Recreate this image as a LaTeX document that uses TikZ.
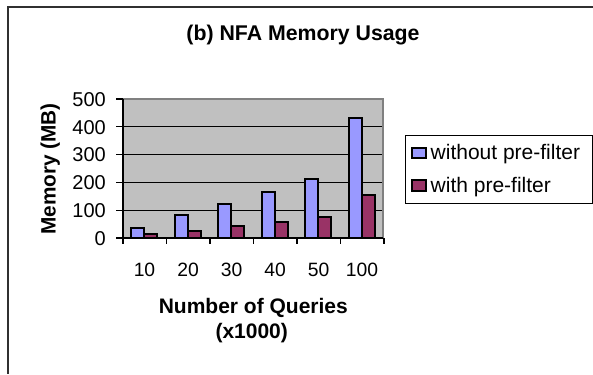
\documentclass[tikz,border=0pt]{standalone}
\usepackage{fontspec}
\setmainfont{Liberation Sans}
\definecolor{plotgray}{HTML}{C0C0C0}
\definecolor{borderg}{HTML}{808080}
\definecolor{barblue}{HTML}{9999FF}
\definecolor{barred}{HTML}{993366}
\definecolor{framec}{HTML}{303030}
\begin{document}
\begin{tikzpicture}[x=1pt,y=-1pt,
  bar/.style={draw=black,line width=2pt},
  ticklab/.style={inner sep=0pt,font=\fontsize{20}{24}\selectfont},
  xlab/.style={inner sep=0pt,font=\fontsize{19.3}{23}\selectfont},
  axtitle/.style={inner sep=0pt,font=\fontsize{21}{24}\selectfont\bfseries},
  legtext/.style={inner sep=0pt,anchor=base west,font=\fontsize{21}{24}\selectfont}]
\useasboundingbox (0,0) rectangle (593,374);
% outer frame
\draw[framec,line width=2pt] (593,7) -- (7.5,7) -- (7.5,374);
% title
\node[inner sep=0pt,anchor=base,font=\fontsize{21.3}{24}\selectfont\bfseries] (title) at (303,41) {(b) NFA Memory Usage};
% plot area
\fill[plotgray] (123,99) rectangle (383,238);
\foreach \v in {100,200,300,400} {
  \draw[black,line width=1pt] (123,{238-0.278*\v}) -- (383,{238-0.278*\v});
}
\draw[borderg,line width=1.5pt] (123,99) -- (383,99) -- (383,238);
% bars
\foreach \b/\r [count=\i from 0] in {37/13,82/25,121/44,165/59,211/76,430/153} {
  \pgfmathsetmacro{\xl}{123+43.5*\i}
  \draw[bar,fill=barblue] (\xl+8,238) rectangle (\xl+21,{238-0.278*\b});
  \draw[bar,fill=barred] (\xl+21,238) rectangle (\xl+34,{238-0.278*\r});
}
% axes
\draw[black,line width=1.2pt] (123,99) -- (123,238) -- (383,238);
\foreach \v in {0,100,...,500} {
  \draw[black,line width=1.2pt] (116,{238-0.278*\v}) -- (123,{238-0.278*\v});
  \node[ticklab,anchor=east] (y\v) at (106,{238.5-0.278*\v}) {\v};
}
\foreach \i in {0,...,6} {
  \draw[black,line width=1.2pt] ({123+43.5*\i},238) -- ({123+43.5*\i},244);
}
% x labels
\foreach \t [count=\i from 0] in {10,20,30,40,50,100} {
  \node[xlab] (x\t) at ({144.5+43.5*\i},270) {\t};
}
% axis titles
\node[axtitle,anchor=base] (xt1) at (253.3,313.3) {Number of Queries};
\node[axtitle,anchor=base] (xt2) at (251.7,338.3) {(x1000)};
\node[axtitle,anchor=base,rotate=90,font=\fontsize{20.8}{24}\selectfont\bfseries] (yt) at (55.5,169) {Memory (MB)};
% legend
\draw[black,line width=0.8pt] (405,135) rectangle (592,203);
\draw[bar,fill=barblue] (412,148) rectangle (425.5,158);
\draw[bar,fill=barred] (412,179.5) rectangle (425.5,190.5);
\node[legtext] (l1) at (430.5,159.3) {without pre-filter};
\node[legtext] (l2) at (430.5,192.7) {with pre-filter};
\end{tikzpicture}
\end{document}
